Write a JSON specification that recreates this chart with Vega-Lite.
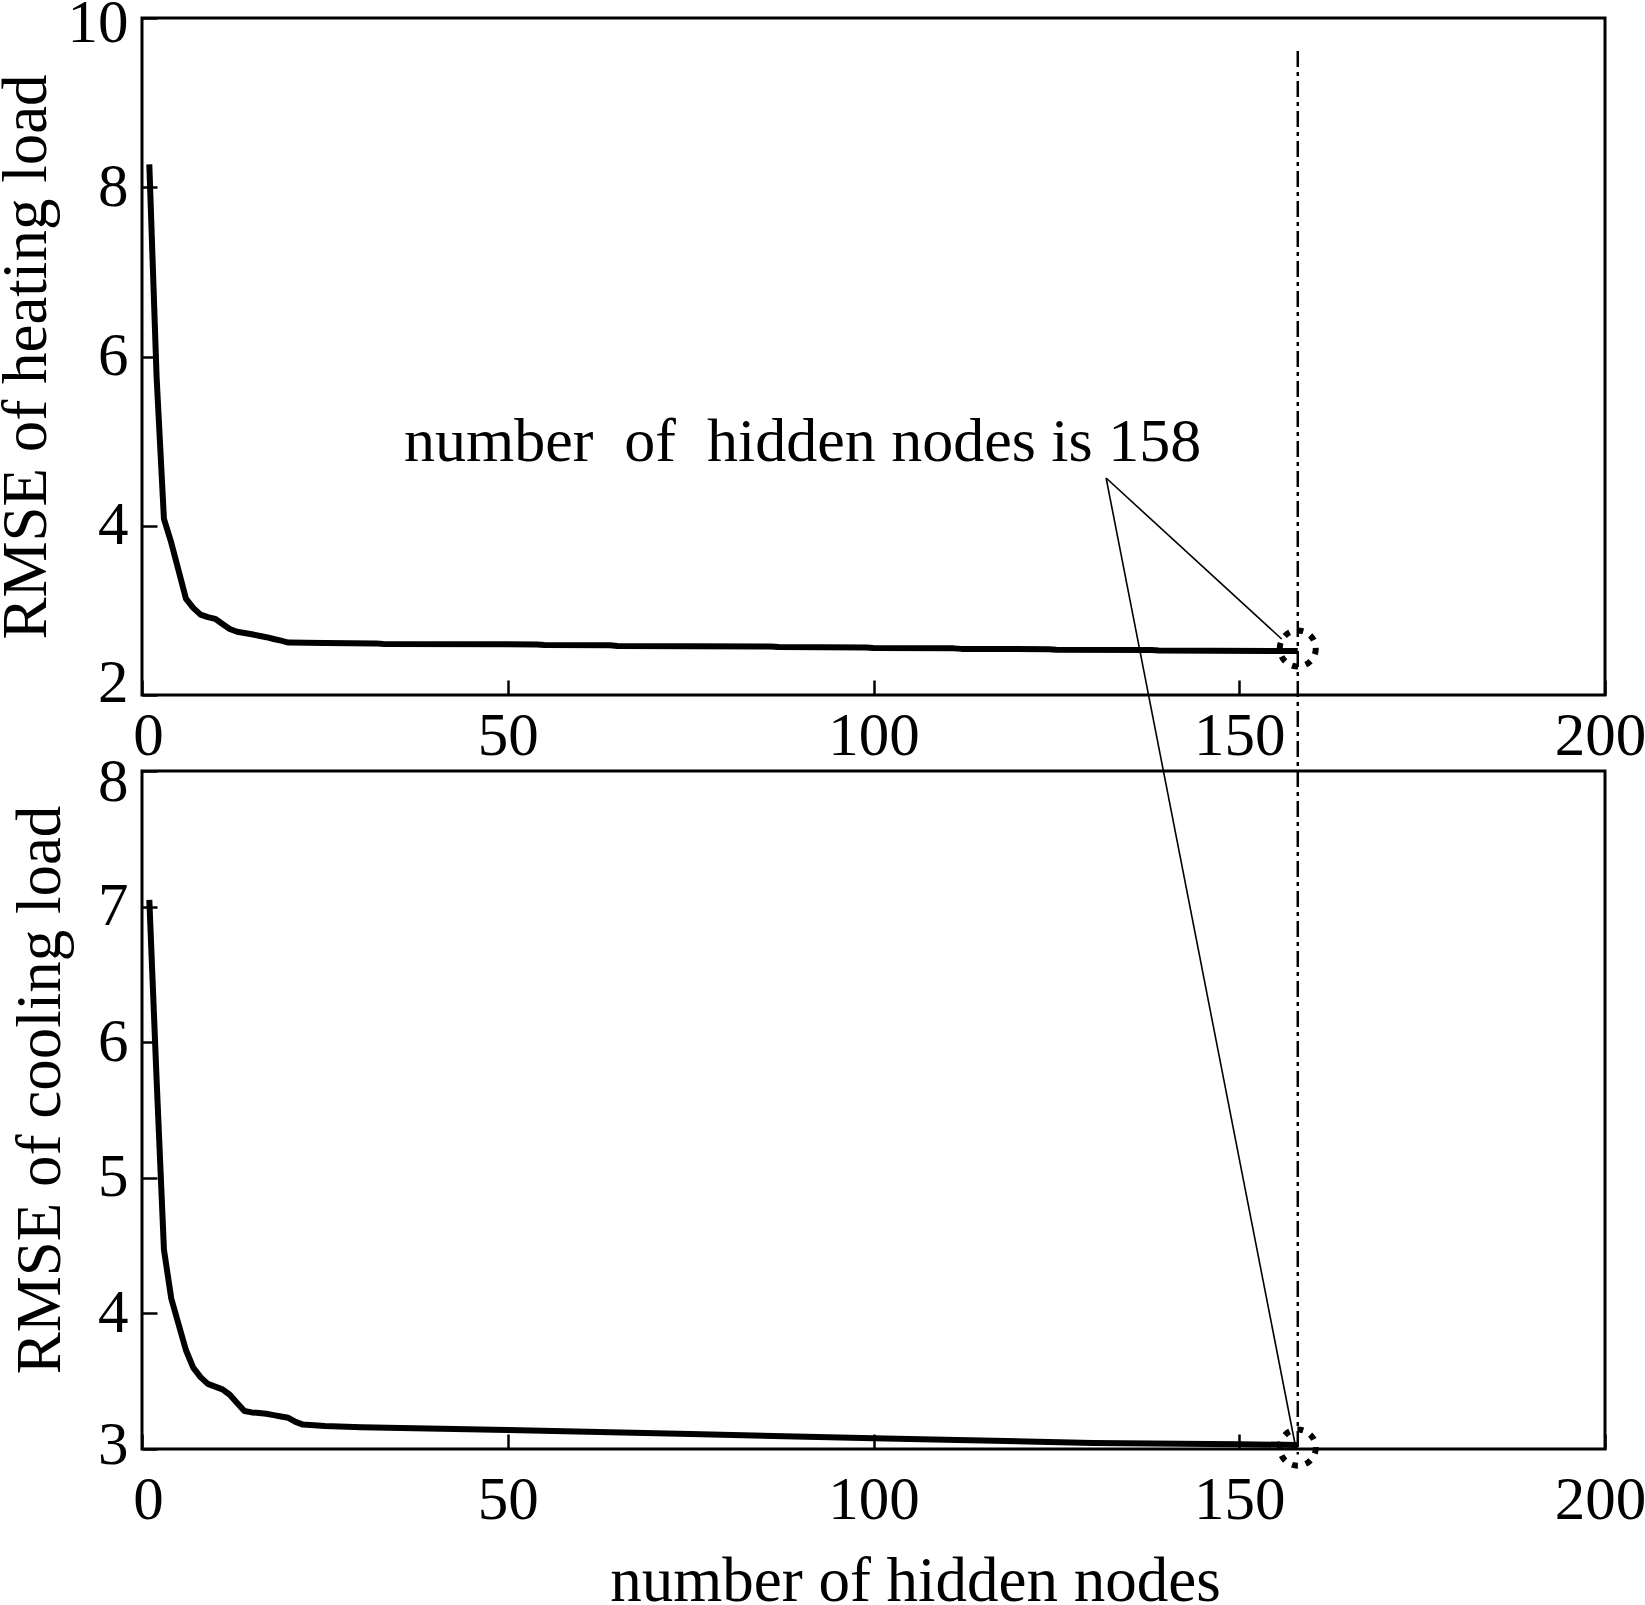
{
  "$schema": "https://vega.github.io/schema/vega-lite/v6.json",
  "padding": {"left": -7, "top": -10, "right": 0, "bottom": 0},
  "background": "white",
  "datasets": {
    "heating": [
      {"x": 1, "y": 8.27}, {"x": 2, "y": 5.75}, {"x": 3, "y": 4.08}, {"x": 4, "y": 3.8},
      {"x": 5, "y": 3.47}, {"x": 6, "y": 3.14}, {"x": 7, "y": 3.03}, {"x": 8, "y": 2.95},
      {"x": 9, "y": 2.92}, {"x": 10, "y": 2.9}, {"x": 11, "y": 2.84}, {"x": 12, "y": 2.78},
      {"x": 13, "y": 2.747}, {"x": 14, "y": 2.733}, {"x": 15, "y": 2.717}, {"x": 16, "y": 2.7},
      {"x": 17, "y": 2.683}, {"x": 18, "y": 2.662}, {"x": 19, "y": 2.642}, {"x": 20, "y": 2.62},
      {"x": 25, "y": 2.615}, {"x": 32, "y": 2.61}, {"x": 33, "y": 2.603}, {"x": 54, "y": 2.598},
      {"x": 55, "y": 2.59}, {"x": 64, "y": 2.588}, {"x": 65, "y": 2.58}, {"x": 86, "y": 2.574},
      {"x": 87, "y": 2.566}, {"x": 99, "y": 2.562}, {"x": 100, "y": 2.555}, {"x": 111, "y": 2.551},
      {"x": 112, "y": 2.545}, {"x": 124, "y": 2.541}, {"x": 125, "y": 2.535}, {"x": 138, "y": 2.531},
      {"x": 139, "y": 2.525}, {"x": 158, "y": 2.52}
    ],
    "cooling": [
      {"x": 1, "y": 7.05}, {"x": 2, "y": 5.72}, {"x": 3, "y": 4.47}, {"x": 4, "y": 4.11},
      {"x": 5, "y": 3.92}, {"x": 6, "y": 3.73}, {"x": 7, "y": 3.6}, {"x": 8, "y": 3.53},
      {"x": 9, "y": 3.48}, {"x": 10, "y": 3.46}, {"x": 11, "y": 3.44}, {"x": 12, "y": 3.4},
      {"x": 13, "y": 3.34}, {"x": 14, "y": 3.28}, {"x": 15, "y": 3.27}, {"x": 16, "y": 3.265},
      {"x": 17, "y": 3.26}, {"x": 18, "y": 3.25}, {"x": 19, "y": 3.24}, {"x": 20, "y": 3.23},
      {"x": 21, "y": 3.2}, {"x": 22, "y": 3.18}, {"x": 25, "y": 3.17}, {"x": 30, "y": 3.16},
      {"x": 50, "y": 3.14}, {"x": 75, "y": 3.11}, {"x": 100, "y": 3.08}, {"x": 130, "y": 3.045},
      {"x": 150, "y": 3.035}, {"x": 158, "y": 3.03}
    ],
    "topDash": [{"x": 158, "y": 9.61, "x2": 158, "y2": 1.1}],
    "botDash": [{"x": 158, "y": 8, "x2": 158, "y2": 2.96}],
    "pointers": [
      {"x": 131.8, "y": 4.564, "x2": 155.8, "y2": 2.662},
      {"x": 131.8, "y": 4.564, "x2": 157.6, "y2": -6.839}
    ],
    "topCircle": [{"x": 158, "y": 2.55}],
    "botCircle": [{"x": 158, "y": 3.01}],
    "note": [{"x": 90.3, "y": 4.765, "text": "number\u00a0 of\u00a0 hidden nodes is 158"}]
  },
  "vconcat": [
    {
      "width": 1463,
      "height": 677,
      "encoding": {
        "x": {
          "field": "x", "type": "quantitative",
          "scale": {"domain": [0, 200], "nice": false, "zero": false},
          "axis": {
            "values": [0, 50, 100, 150, 200], "labelPadding": 26, "title": null,
            "labelOffset": {"condition": [{"test": "datum.value == 0", "value": 6}, {"test": "datum.value == 200", "value": -5}], "value": 0}
          }
        },
        "y": {
          "field": "y", "type": "quantitative",
          "scale": {"domain": [2, 10], "nice": false, "zero": false},
          "axis": {
            "values": [2, 4, 6, 8, 10], "labelPadding": 29,
            "labelOffset": {"condition": [{"test": "datum.value == 10", "value": 5}, {"test": "datum.value == 2", "value": -12}], "value": 0},
            "title": "RMSE of heating load",
            "titleX": -97, "titleY": 338.5, "titleAngle": 270,
            "titleAlign": "center", "titleBaseline": "alphabetic"
          }
        }
      },
      "layer": [
        {
          "data": {"name": "topDash"},
          "mark": {"type": "rule", "color": "black", "strokeWidth": 2.5, "strokeDash": [16, 5, 4, 5], "clip": false},
          "encoding": {"x2": {"field": "x2"}, "y2": {"field": "y2"}}
        },
        {
          "data": {"name": "heating"},
          "mark": {"type": "line", "color": "black", "strokeWidth": 6, "strokeJoin": "round", "clip": false},
          "encoding": {}
        },
        {
          "data": {"name": "pointers"},
          "mark": {"type": "rule", "color": "black", "strokeWidth": 1.6, "clip": false},
          "encoding": {"x2": {"field": "x2"}, "y2": {"field": "y2"}}
        },
        {
          "data": {"name": "topCircle"},
          "mark": {"type": "point", "shape": "circle", "filled": false, "stroke": "black", "strokeWidth": 6, "strokeDash": [6, 8], "size": 1300, "opacity": 1, "clip": false},
          "encoding": {}
        },
        {
          "data": {"name": "note"},
          "mark": {"type": "text", "font": "Liberation Serif", "fontSize": 62, "color": "black", "align": "center", "baseline": "alphabetic"},
          "encoding": {"text": {"field": "text"}}
        }
      ]
    },
    {
      "width": 1463,
      "height": 678,
      "encoding": {
        "x": {
          "field": "x", "type": "quantitative",
          "scale": {"domain": [0, 200], "nice": false, "zero": false},
          "axis": {
            "values": [0, 50, 100, 150, 200], "labelPadding": 36,
            "labelOffset": {"condition": [{"test": "datum.value == 0", "value": 6}, {"test": "datum.value == 200", "value": -5}], "value": 0},
            "title": "number of hidden nodes",
            "titleX": 773, "titleY": 151, "titleAngle": 0,
            "titleAlign": "center", "titleBaseline": "alphabetic"
          }
        },
        "y": {
          "field": "y", "type": "quantitative",
          "scale": {"domain": [3, 8], "nice": false, "zero": false},
          "axis": {
            "values": [3, 4, 5, 6, 7, 8], "labelPadding": 29,
            "labelOffset": {"condition": [{"test": "datum.value == 8", "value": 11}, {"test": "datum.value == 3", "value": -4}], "value": 0},
            "title": "RMSE of cooling load",
            "titleX": -83, "titleY": 318.5, "titleAngle": 270,
            "titleAlign": "center", "titleBaseline": "alphabetic"
          }
        }
      },
      "layer": [
        {
          "data": {"name": "botDash"},
          "mark": {"type": "rule", "color": "black", "strokeWidth": 2.5, "strokeDash": [16, 5, 4, 5], "clip": false},
          "encoding": {"x2": {"field": "x2"}, "y2": {"field": "y2"}}
        },
        {
          "data": {"name": "cooling"},
          "mark": {"type": "line", "color": "black", "strokeWidth": 6, "strokeJoin": "round", "clip": false},
          "encoding": {}
        },
        {
          "data": {"name": "botCircle"},
          "mark": {"type": "point", "shape": "circle", "filled": false, "stroke": "black", "strokeWidth": 6, "strokeDash": [6, 8], "size": 1300, "opacity": 1, "clip": false},
          "encoding": {}
        }
      ]
    }
  ],
  "spacing": 76,
  "bounds": "flush",
  "config": {
    "font": "Liberation Serif",
    "view": {"stroke": "black", "strokeWidth": 3},
    "axis": {
      "domain": false,
      "grid": false,
      "ticks": true,
      "tickSize": -15,
      "tickWidth": 2.5,
      "tickColor": "black",
      "labelColor": "black",
      "labelFont": "Liberation Serif",
      "labelFontSize": 61,
      "labelFlush": false,
      "labelOverlap": false,
      "titleFont": "Liberation Serif",
      "titleFontSize": 63,
      "titleFontWeight": "normal",
      "titleColor": "black"
    }
  }
}
